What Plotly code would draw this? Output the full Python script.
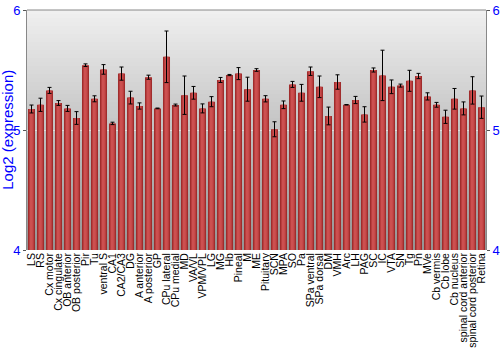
import plotly.graph_objects as go

categories = ["LS", "RS", "Cx motor", "Cx cingulate", "OB anterior", "OB posterior", "Pir", "Tu",
              "ventral S", "CA1", "CA2/CA3", "DG", "A anterior", "A posterior", "GP", "CPu lateral",
              "CPu medial", "MD", "VA/VL", "VPM/VPL", "LG", "MG", "Hb", "Pineal", "M", "ME",
              "Pituitary", "SCN", "MPA", "SO", "Pa", "SPa ventral", "SPa dorsal", "DM", "VMH",
              "Arc", "LH", "PAG", "SC", "IC", "VTA", "SN", "Tg", "Pn", "MVe", "Cb vermis",
              "Cb lobe", "Cb nucleus", "spinal cord anterior", "spinal cord posterior", "Retina"]

values = [5.175, 5.21, 5.33, 5.225, 5.18, 5.10, 5.54, 5.26,
          5.505, 5.055, 5.47, 5.27, 5.20, 5.44, 5.18, 5.61,
          5.208, 5.29, 5.31, 5.18, 5.236, 5.417, 5.458, 5.47, 5.34, 5.50,
          5.26, 5.006, 5.21, 5.38, 5.31, 5.49, 5.36, 5.117, 5.40,
          5.21, 5.25, 5.13, 5.50, 5.455, 5.36, 5.37, 5.41, 5.45, 5.28, 5.21,
          5.11, 5.26, 5.18, 5.33, 5.19]

errors = [0.033, 0.055, 0.025, 0.02, 0.025, 0.053, 0.011, 0.025,
          0.04, 0.01, 0.055, 0.053, 0.026, 0.017, 0.003, 0.215,
          0.008, 0.16, 0.053, 0.0375, 0.042, 0.021, 0.005, 0.05, 0.10, 0.011,
          0.026, 0.0625, 0.032, 0.025, 0.07, 0.035, 0.09, 0.074, 0.06,
          0.002, 0.03, 0.064, 0.017, 0.21, 0.057, 0.0125, 0.0875, 0.022, 0.03, 0.02,
          0.055, 0.086, 0.054, 0.114, 0.093]

y_ticks = [4, 5, 6]
y_min, y_max = 4, 6
base = 4
y_title = "Log2 (expression)"

fig = go.Figure()

# gradient background bands
n_bands = 60
for i in range(n_bands):
    t = i / (n_bands - 1)
    c = int(240 - t * (240 - 150))
    fig.add_shape(type="rect", xref="paper", yref="paper",
                  x0=0, x1=1, y0=1 - (i + 1) / n_bands, y1=1 - i / n_bands,
                  fillcolor=f"rgb({c},{c},{c})", line=dict(width=0), layer="below")

heights = [v - base for v in values]
fig.add_trace(go.Bar(
    x=categories, y=heights, base=base, width=0.78,
    marker=dict(color="#a02c2c", line=dict(width=0)),
    showlegend=False, hoverinfo="skip",
))
fig.add_trace(go.Bar(
    x=categories, y=heights, base=base, width=0.5,
    marker=dict(color="#c24545", line=dict(width=0)),
    showlegend=False, hoverinfo="skip",
))
fig.add_trace(go.Bar(
    x=categories, y=heights, base=base, width=0.22,
    marker=dict(color="#cc5050", line=dict(width=0)),
    error_y=dict(type="data", array=errors, color="black", thickness=1, width=2),
    showlegend=False, hoverinfo="skip",
))
fig.add_trace(go.Scatter(x=[categories[0]], y=[base], yaxis="y2", mode="markers",
                         marker=dict(opacity=0), showlegend=False, hoverinfo="skip"))

axis_font = dict(family="Liberation Sans, Arial", size=13, color="#0000ff")
fig.update_layout(
    width=500, height=350,
    margin=dict(l=27, r=14, t=10, b=100),
    paper_bgcolor="white",
    plot_bgcolor="rgba(0,0,0,0)",
    barmode="overlay",
    xaxis=dict(tickangle=-90, tickmode="linear", dtick=1, automargin=False,
               tickfont=dict(family="Liberation Sans, Arial", size=10.5, color="black"),
               showline=False, ticks="", showgrid=False, range=[-0.5, len(categories) - 0.5]),
    yaxis=dict(range=[y_min, y_max], tickvals=y_ticks, tickfont=axis_font, automargin=False,
               showline=True, linecolor="#888888", mirror=False, ticks="outside", ticklen=3,
               tickcolor="#555555", showgrid=True, gridcolor="rgba(255,255,255,0.5)", gridwidth=1, zeroline=False),
    yaxis2=dict(range=[y_min, y_max], tickvals=y_ticks, tickfont=axis_font, overlaying="y", side="right",
                automargin=False,
                showline=True, linecolor="#888888", ticks="outside", ticklen=3, tickcolor="#555555",
                showgrid=False, zeroline=False),
    font=dict(family="Liberation Sans, Arial"),
)
fig.add_annotation(text=y_title, xref="paper", yref="paper", x=-0.044, y=0.5,
                   xanchor="center", yanchor="middle", textangle=-90, showarrow=False,
                   font=dict(family="Liberation Sans, Arial", size=15, color="#0000ff"))
fig.add_shape(type="line", xref="paper", yref="paper", x0=0, x1=1, y0=1, y1=1,
              line=dict(color="#888888", width=1))

fig.write_html("out.html")
